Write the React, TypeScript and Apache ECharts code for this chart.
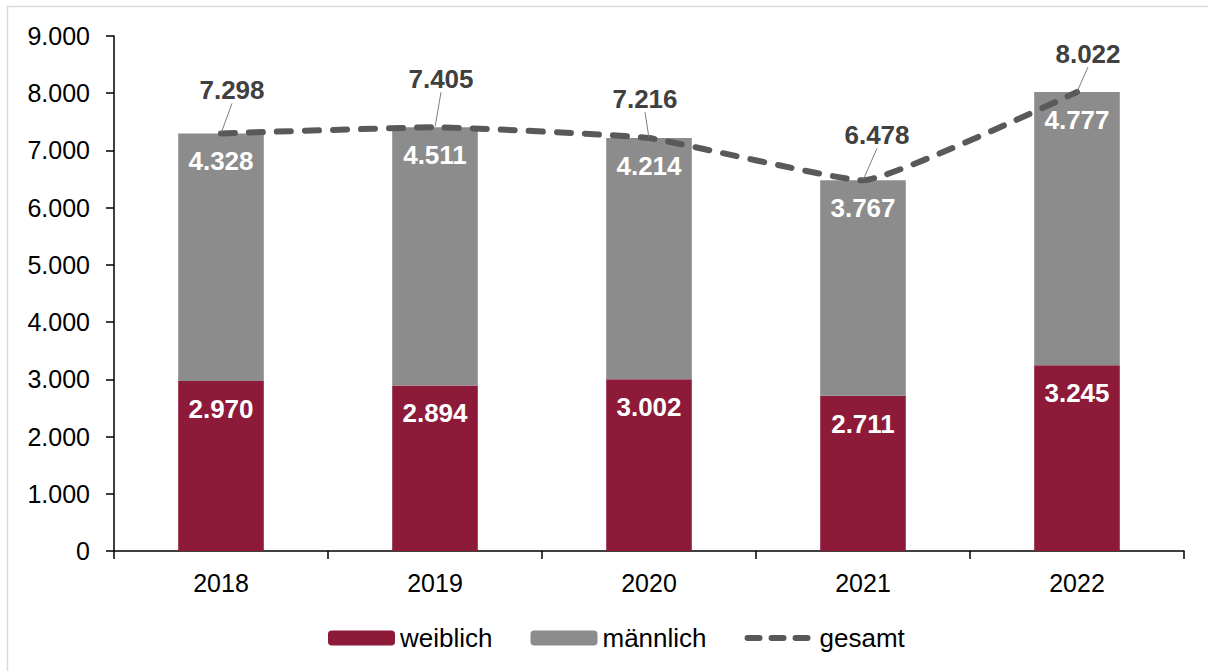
import React, { useEffect, useRef } from "react";
import * as echarts from "echarts";

const years = ["2018", "2019", "2020", "2021", "2022"];
const weiblich = [2970, 2894, 3002, 2711, 3245];
const maennlich = [4328, 4511, 4214, 3767, 4777];
const gesamt = [7298, 7405, 7216, 6478, 8022];

// label placement offsets (layout only)
const totalLabelDx = [11, 6, -4, 14, 11];
const totalLabelDy = [-25, -30, -21, -27, -20];

const fmt = (v: number) => {
  const s = String(Math.round(v));
  return s.replace(/\B(?=(\d{3})+(?!\d))/g, ".");
};

const FONT = "'Liberation Sans', Arial, sans-serif";

export default function App() {
  const ref = useRef<HTMLDivElement>(null);
  useEffect(() => {
    if (!ref.current) return;
    const chart = echarts.init(ref.current, undefined, { renderer: "svg" });
    const barLabel = {
      show: true,
      position: "insideTop",
      distance: 15,
      color: "#fff",
      fontSize: 26,
      fontWeight: "bold",
      fontFamily: FONT,
      formatter: (p: any) => fmt(p.value),
    };
    chart.setOption({
      animation: false,
      textStyle: { fontFamily: FONT },
      graphic: [
        {
          type: "rect",
          shape: { x: 7.5, y: 6.5, width: 1300, height: 700 },
          style: { fill: "none", stroke: "#d9d9d9", lineWidth: 1.5 },
          silent: true,
        },
      ],
      grid: { left: 114, right: 24, top: 36, bottom: 120 },
      legend: {
        top: 620,
        left: 323,
        itemWidth: 67,
        itemHeight: 15,
        itemGap: 38,
        textStyle: { fontSize: 26, color: "#000", fontFamily: FONT },
        data: [
          "weiblich",
          "männlich",
          {
            name: "gesamt",
            itemStyle: { opacity: 0 },
            lineStyle: { width: 6, type: [12, 12], cap: "round", color: "#595959" },
          },
        ],
      },
      xAxis: {
        type: "category",
        data: years,
        axisLine: { lineStyle: { color: "#000", width: 1.5 } },
        axisTick: { show: true, length: 8, lineStyle: { color: "#000", width: 1.5 } },
        axisLabel: { fontSize: 25, color: "#000", margin: 19, fontFamily: FONT },
      },
      yAxis: {
        type: "value",
        min: 0,
        max: 9000,
        interval: 1000,
        axisLine: { show: true, lineStyle: { color: "#000", width: 1.5 } },
        axisTick: { show: true, length: 8, lineStyle: { color: "#000", width: 1.5 } },
        splitLine: { show: false },
        axisLabel: {
          fontSize: 25,
          color: "#000",
          margin: 24,
          fontFamily: FONT,
          formatter: (v: number) => fmt(v),
        },
      },
      series: [
        {
          name: "weiblich",
          type: "bar",
          stack: "a",
          barWidth: "40%",
          data: weiblich,
          itemStyle: { color: "#8e1a3a" },
          label: barLabel,
        },
        {
          name: "männlich",
          type: "bar",
          stack: "a",
          barWidth: "40%",
          data: maennlich,
          itemStyle: { color: "#8c8c8c" },
          label: barLabel,
        },
        {
          name: "gesamt",
          type: "line",
          data: gesamt,
          smooth: 0.12,
          symbol: "circle",
          symbolSize: 2,
          showSymbol: true,
          lineStyle: { color: "#595959", width: 6, type: [14, 14], cap: "round" },
          itemStyle: { color: "transparent" },
          label: {
            show: true,
            position: "top",
            distance: 4,
            color: "#404040",
            fontSize: 26,
            fontWeight: "bold",
            fontFamily: FONT,
            formatter: (p: any) => fmt(p.value),
          },
          labelLayout: (p: any) => ({
            dx: totalLabelDx[p.dataIndex],
            dy: totalLabelDy[p.dataIndex],
          }),
          labelLine: { show: true, lineStyle: { color: "#7f7f7f", width: 1 } },
        },
      ],
    });
    return () => chart.dispose();
  }, []);
  return (
    <div
      ref={ref}
      style={{ position: "fixed", left: 0, top: 0, width: 1208, height: 671, background: "#fff" }}
    />
  );
}
